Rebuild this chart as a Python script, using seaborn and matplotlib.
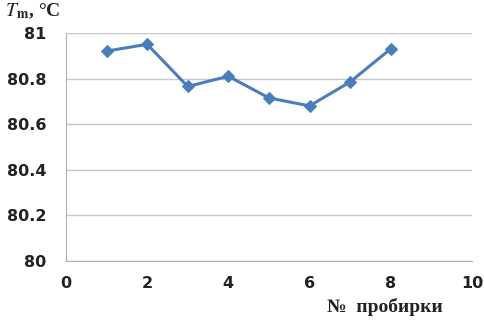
import matplotlib
matplotlib.use("Agg")
import matplotlib.pyplot as plt
import seaborn as sns
import pandas as pd

tube = [1, 2, 3, 4, 5, 6, 7, 8]
tm = [80.92, 80.95, 80.765, 80.81, 80.715, 80.68, 80.785, 80.93]
xticks = [0, 2, 4, 6, 8, 10]
yticks = [80, 80.2, 80.4, 80.6, 80.8, 81]
ytick_labels = ["80", "80.2", "80.4", "80.6", "80.8", "81"]

sns.set_style("white")
plt.rcParams['font.family'] = ['DejaVu Sans']
plt.rcParams['mathtext.fontset'] = 'stix'

df = pd.DataFrame({"tube": tube, "tm": tm})
fig = plt.figure(figsize=(4.85, 3.22), dpi=100)
ax = fig.add_axes([0.136, 0.189, 0.837, 0.709])
sns.lineplot(data=df, x="tube", y="tm", ax=ax, color="#4a7ebb", linewidth=2.2,
             marker="D", markersize=6, markeredgecolor="#4a7ebb")
ax.set_xlim(0, 10)
ax.set_ylim(80, 81)
ax.set_xticks(xticks)
ax.set_yticks(yticks)
ax.set_yticklabels(ytick_labels)
for lab in ax.get_xticklabels() + ax.get_yticklabels():
    lab.set_fontweight("bold")
    lab.set_fontsize(11.5)
    lab.set_color("#222222")
ax.yaxis.grid(True, color="#c8c8c8", linewidth=1)
ax.set_axisbelow(True)
for s in ["top", "right"]:
    ax.spines[s].set_visible(False)
ax.spines["left"].set_color("#b0b0b0")
ax.spines["bottom"].set_color("#b0b0b0")
ax.tick_params(axis="x", direction="out", length=5, color="#b0b0b0", pad=6)
ax.tick_params(axis="y", length=0, pad=14)
ax.set_xlabel("")
ax.set_ylabel("")
fig.text(0.675, 0.03, "№  пробирки", fontsize=14, fontweight="bold",
         family="Liberation Serif", color="#222222")
fig.text(0.01, 0.95, r"$\mathbf{\mathit{T}}_{\mathbf{m}}$, °C", fontsize=14, fontweight="bold",
         family="Liberation Serif", color="#222222")
fig.savefig("out.png", dpi=100)
